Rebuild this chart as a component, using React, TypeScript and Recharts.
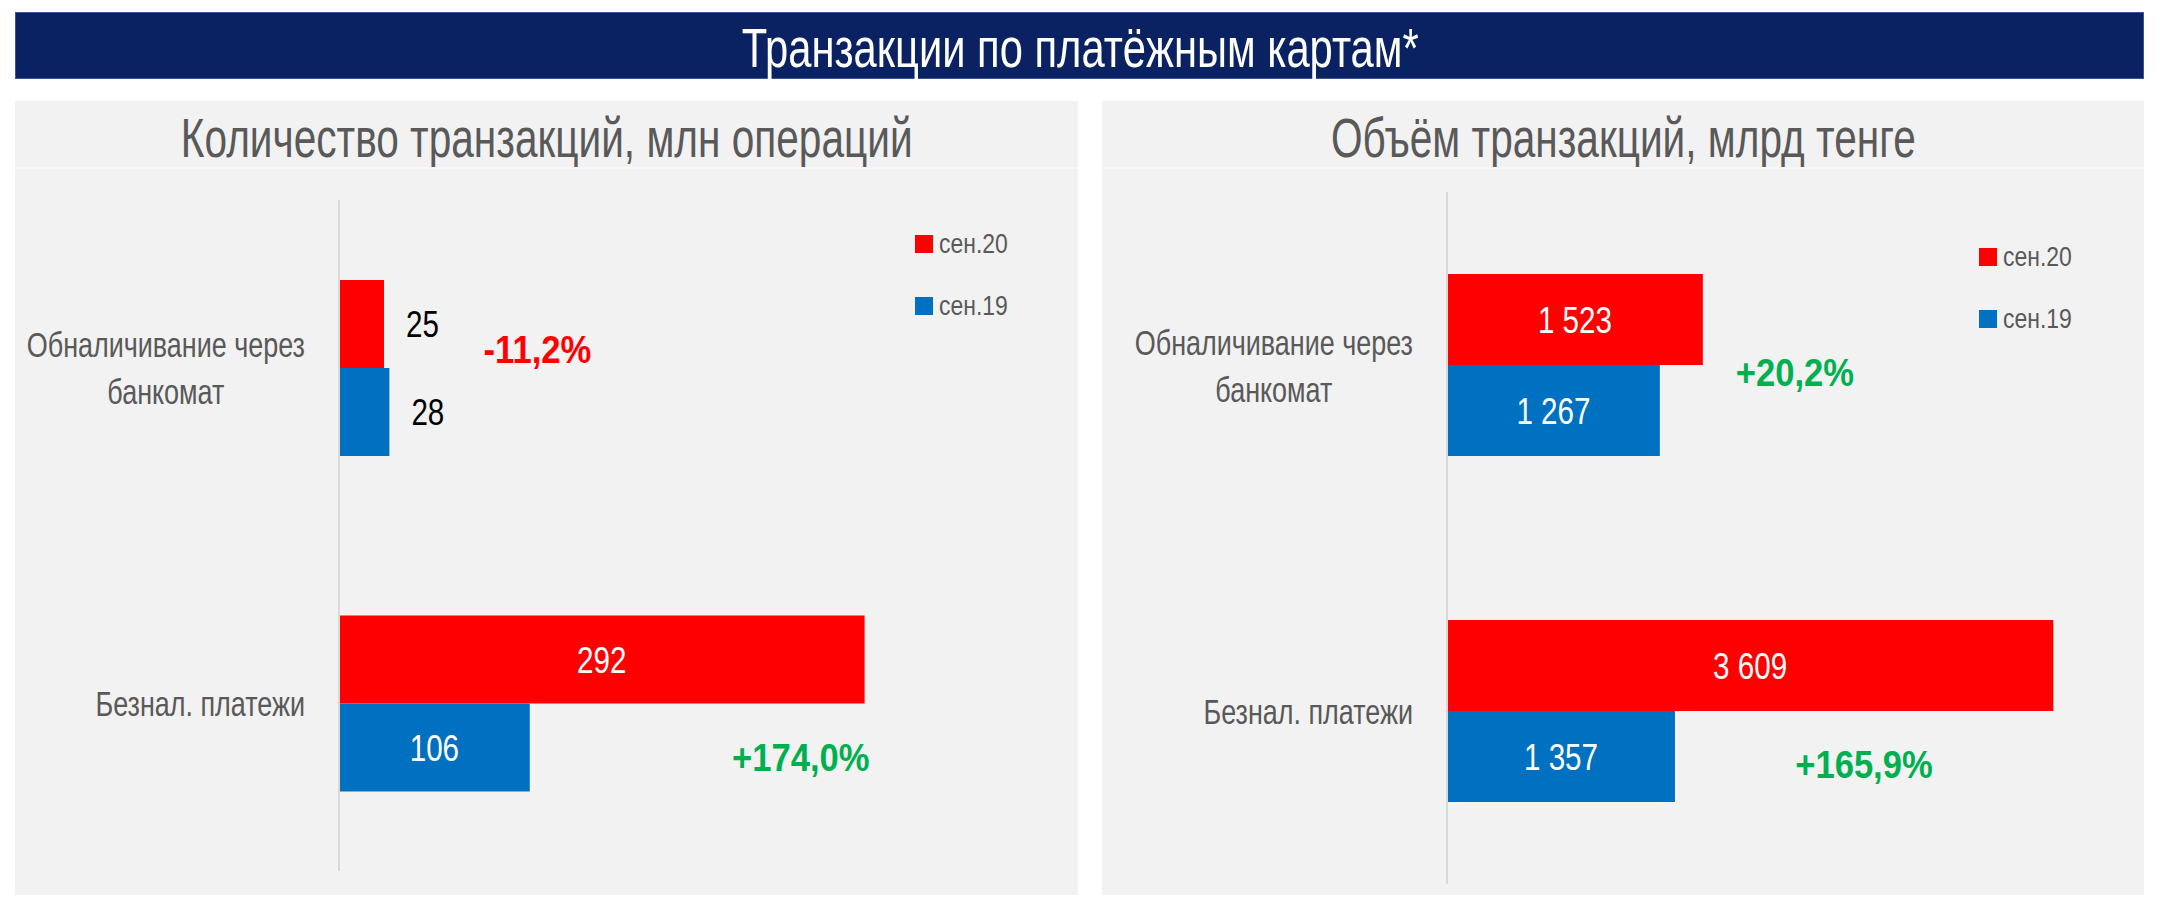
import React from 'react';
import { BarChart, Bar, XAxis, YAxis, LabelList, Legend } from 'recharts';

// categories (line break marks how the axis label wraps)
const categories = ['Обналичивание через\nбанкомат', 'Безнал. платежи'];
const seriesNames = ['сен.20', 'сен.19'];

// number of transactions, mln operations
const countSep20 = [25, 292];
const countSep19 = [28, 106];
const countChange = [-11.2, 174.0];

// volume of transactions, bn tenge
const volumeSep20 = [1523, 3609];
const volumeSep19 = [1267, 1357];
const volumeChange = [20.2, 165.9];

// the original uses a condensed face; squeeze Liberation Sans horizontally
const FONT = "'Liberation Sans', Arial, sans-serif";
const SX = 0.77;
const RED = '#ff0000';
const BLUE = '#0070c0';
const GREEN = '#00b050';
const GREY = '#595959';

const fmt = (v: number) => String(v).replace(/\B(?=(\d{3})+(?!\d))/g, ' ');
const fmtPct = (v: number) => (v < 0 ? '-' : '+') + Math.abs(v).toFixed(1).replace('.', ',') + '%';

let measureCtx: CanvasRenderingContext2D | null = null;
function textWidth(s: string, size: number) {
    if (!measureCtx) measureCtx = document.createElement('canvas').getContext('2d');
    if (!measureCtx) return s.length * size * 0.5;
    measureCtx.font = `${size}px ${FONT}`;
    return measureCtx.measureText(s).width;
}

// svg text squeezed horizontally around its anchor point
function SqText({ x, y, anchor = 'start', size, fill, bold = false, sx = SX, children }: any) {
    return (
        <text
            transform={`translate(${x},${y}) scale(${sx},1)`}
            x={0}
            y={0}
            textAnchor={anchor}
            fill={fill}
            fontSize={size}
            fontWeight={bold ? 'bold' : 'normal'}
            fontFamily={FONT}
        >
            {children}
        </text>
    );
}

function CategoryTick(props: any) {
    const { x, y, payload } = props;
    const size = 35;
    const lines = String(payload.value).split('\n');
    const blockW = Math.max(...lines.map((l) => textWidth(l, size))) * SX;
    const cx = Number(x) - blockW / 2;
    const lineH = 47;
    const base = Number(y) + 13 - ((lines.length - 1) * lineH) / 2;
    return (
        <g>
            {lines.map((l, i) => (
                <SqText key={i} x={cx} y={base + i * lineH} anchor="middle" size={size} fill={GREY}>
                    {l}
                </SqText>
            ))}
        </g>
    );
}

const renderValue = (props: any) => {
    const x = Number(props.x);
    const y = Number(props.y);
    const width = Number(props.width);
    const height = Number(props.height);
    const inside = width > 90;
    return (
        <SqText
            x={inside ? x + width / 2 : x + width + 22}
            y={y + height / 2 + 13}
            anchor={inside ? 'middle' : 'start'}
            size={37}
            fill={inside ? '#ffffff' : '#000000'}
            sx={0.8}
        >
            {fmt(Number(props.value))}
        </SqText>
    );
};

const makeNote = (notes: { dx: number; dy: number }[]) => (props: any) => {
    const i = props.index ?? 0;
    const v = Number(props.value);
    const n = notes[i] || { dx: 100, dy: 0 };
    return (
        <SqText
            x={Number(props.x) + Number(props.width) + n.dx}
            y={Number(props.y) + n.dy + 14}
            anchor="middle"
            size={38}
            bold
            fill={v < 0 ? RED : GREEN}
            sx={0.91}
        >
            {fmtPct(v)}
        </SqText>
    );
};

const renderLegend = (props: any) => {
    const items = [...(props.payload || [])].sort(
        (a: any, b: any) => seriesNames.indexOf(a.value) - seriesNames.indexOf(b.value)
    );
    return (
        <div>
            {items.map((item: any) => (
                <div key={item.value} style={{ display: 'flex', alignItems: 'center', height: 62 }}>
                    <span
                        style={{
                            display: 'inline-block',
                            width: 18,
                            height: 18,
                            background: item.color,
                            marginRight: 6,
                        }}
                    />
                    <span
                        style={{
                            display: 'inline-block',
                            fontSize: 28,
                            color: GREY,
                            fontFamily: FONT,
                            lineHeight: 1,
                            transform: 'scaleX(0.82)',
                            transformOrigin: 'left center',
                        }}
                    >
                        {item.value}
                    </span>
                </div>
            ))}
        </div>
    );
};

function HeadText({ top, width, size, color, sx, children }: any) {
    return (
        <div
            style={{
                position: 'absolute',
                left: 0,
                top,
                width,
                height: 80,
                lineHeight: '80px',
                textAlign: 'center',
                whiteSpace: 'nowrap',
            }}
        >
            <span
                style={{
                    display: 'inline-block',
                    fontFamily: FONT,
                    fontSize: size,
                    color,
                    transform: `scaleX(${sx})`,
                    transformOrigin: 'center center',
                }}
            >
                {children}
            </span>
        </div>
    );
}

interface PanelProps {
    title: string;
    left: number;
    width: number;
    sep20: number[];
    sep19: number[];
    change: number[];
    domainMax: number;
    axisWidth: number;
    margin: { top: number; right: number; bottom: number; left: number };
    barSize: number;
    notes: { dx: number; dy: number }[];
    legendPos: { left: number; top: number };
}

const PANEL_TOP = 101;
const PANEL_H = 794;

function Panel({
    title,
    left,
    width,
    sep20,
    sep19,
    change,
    domainMax,
    axisWidth,
    margin,
    barSize,
    notes,
    legendPos,
}: PanelProps) {
    const data = categories.map((name, i) => ({
        name,
        sep20: sep20[i],
        sep19: sep19[i],
        change: change[i],
    }));

    return (
        <div
            style={{
                position: 'absolute',
                left,
                top: PANEL_TOP,
                width,
                height: PANEL_H,
                background: '#f2f2f2',
            }}
        >
            <HeadText top={-3} width={width} size={56} color={GREY} sx={0.725}>
                {title}
            </HeadText>
            <div
                style={{
                    position: 'absolute',
                    left: 0,
                    top: 66,
                    width,
                    height: 2,
                    background: '#f8f8f8',
                }}
            />
            <div style={{ position: 'absolute', left: 0, top: 0 }}>
                <BarChart
                    width={width}
                    height={PANEL_H}
                    data={data}
                    layout="vertical"
                    margin={margin}
                    barGap={0}
                >
                    <XAxis type="number" hide domain={[0, domainMax]} />
                    <YAxis
                        type="category"
                        dataKey="name"
                        width={axisWidth}
                        tickLine={false}
                        tickSize={0}
                        tickMargin={34}
                        axisLine={{ stroke: '#d9d9d9', strokeWidth: 2 }}
                        tick={<CategoryTick />}
                    />
                    <Legend
                        layout="vertical"
                        align="center"
                        verticalAlign="middle"
                        content={renderLegend}
                        wrapperStyle={{ left: legendPos.left, top: legendPos.top, width: 'auto' }}
                    />
                    <Bar
                        dataKey="sep20"
                        name={seriesNames[0]}
                        fill={RED}
                        barSize={barSize}
                        isAnimationActive={false}
                    >
                        <LabelList dataKey="sep20" content={renderValue} />
                    </Bar>
                    <Bar
                        dataKey="sep19"
                        name={seriesNames[1]}
                        fill={BLUE}
                        barSize={barSize}
                        isAnimationActive={false}
                    >
                        <LabelList dataKey="sep19" content={renderValue} />
                        <LabelList dataKey="change" content={makeNote(notes)} />
                    </Bar>
                </BarChart>
            </div>
        </div>
    );
}

export default function App() {
    return (
        <div
            style={{
                position: 'absolute',
                left: 0,
                top: 0,
                width: 2160,
                height: 914,
                background: '#ffffff',
                overflow: 'hidden',
            }}
        >
            <div
                style={{
                    position: 'absolute',
                    left: 15,
                    top: 12,
                    width: 2127,
                    height: 65,
                    background: '#0b2262',
                    border: '1px solid #3b5796',
                }}
            />
            <HeadText top={8} width={2160} size={56} color="#ffffff" sx={0.745}>
                Транзакции по платёжным картам*
            </HeadText>
            <Panel
                title="Количество транзакций, млн операций"
                left={15}
                width={1063}
                sep20={countSep20}
                sep19={countSep19}
                change={countChange}
                domainMax={350}
                axisWidth={324}
                margin={{ top: 99, right: 109, bottom: 24, left: 0 }}
                barSize={88}
                notes={[
                    { dx: 148, dy: -19 },
                    { dx: 271, dy: 53 },
                ]}
                legendPos={{ left: 900, top: 112 }}
            />
            <Panel
                title="Объём транзакций, млрд тенге"
                left={1102}
                width={1042}
                sep20={volumeSep20}
                sep19={volumeSep19}
                change={volumeChange}
                domainMax={4000}
                axisWidth={345}
                margin={{ top: 91, right: 25, bottom: 11, left: 0 }}
                barSize={91}
                notes={[
                    { dx: 135, dy: 7 },
                    { dx: 189, dy: 53 },
                ]}
                legendPos={{ left: 877, top: 125 }}
            />
        </div>
    );
}
